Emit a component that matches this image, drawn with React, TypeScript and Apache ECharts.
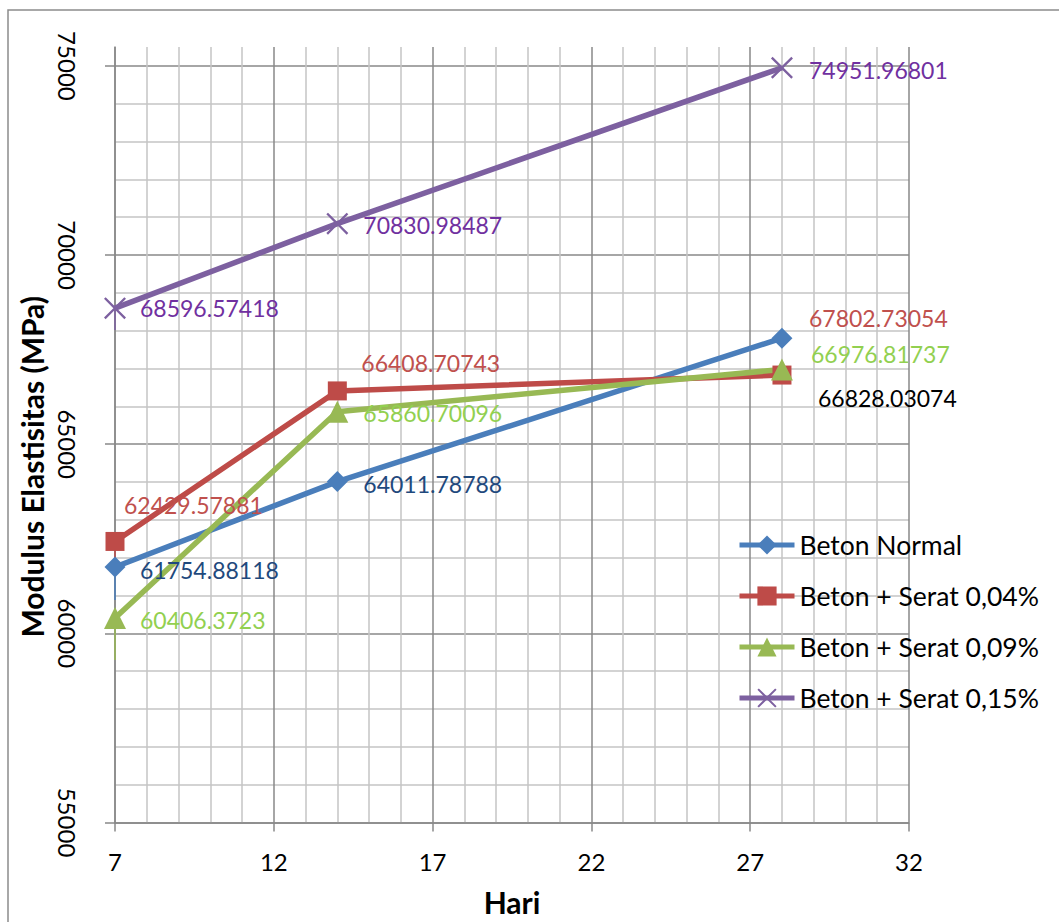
import React, { useEffect, useRef } from "react";
import * as echarts from "echarts";

// ---- data ----
const days = [7, 14, 28];
const seriesNames = [
  "Beton Normal",
  "Beton + Serat 0,04%",
  "Beton + Serat 0,09%",
  "Beton + Serat 0,15%",
];
const betonNormal = [61754.88118, 64011.78788, 67802.73054];
const betonSerat004 = [62429.57881, 66408.70743, 66828.03074];
const betonSerat009 = [60406.3723, 65860.70096, 66976.81737];
const betonSerat015 = [68596.57418, 70830.98487, 74951.96801];
// lower bars (minus direction) visible at day 7
const lowerBarNormal = [870, 0, 0];
const lowerBarSerat004 = [690, 0, 0];
const lowerBarSerat009 = [1110, 0, 0];
const lowerBarSerat015 = [580, 0, 0];
const xTickLabels = [7, 12, 17, 22, 27, 32];
const yTickLabels = [55000, 60000, 65000, 70000, 75000];

// ---- styles ----
const FONT = "Lato";
const lineColors = ["#4A7EBB", "#BE4B48", "#98B954", "#7D60A0"];
const symbols = [
  "diamond",
  "rect",
  "triangle",
  "path://M0,1.5L1.5,0L10,8.5L18.5,0L20,1.5L11.5,10L20,18.5L18.5,20L10,11.5L1.5,20L0,18.5L8.5,10Z",
];
const symbolSizes: any[] = [21, 19, 22, 22];
const labelColors = [
  ["#1F497D", "#1F497D", "#C0504D"],
  ["#C0504D", "#C0504D", "#000000"],
  ["#92D050", "#92D050", "#92D050"],
  ["#7030A0", "#7030A0", "#7030A0"],
];
const labelOffsets = [
  [[25, 3], [26, 2], [27, -20]],
  [[9, -36], [24, -28], [36, 23]],
  [[25, 2], [26, 1], [29, -15]],
  [[25, 0], [26, 1], [27, 2]],
];
const MAJOR = "#888888";
const MINOR = "#C4C4C4";

export default function App() {
  const ref = useRef<HTMLDivElement>(null);
  useEffect(() => {
    if (!ref.current) return;
    const chart = echarts.init(ref.current, undefined, { renderer: "svg" });
    const values = [betonNormal, betonSerat004, betonSerat009, betonSerat015];
    const lowers = [lowerBarNormal, lowerBarSerat004, lowerBarSerat009, lowerBarSerat015];

    const lineSeries = values.map((vals, s) => ({
      type: "line",
      name: seriesNames[s],
      xAxisIndex: 0,
      yAxisIndex: 0,
      z: 3,
      symbol: symbols[s],
      symbolSize: symbolSizes[s],
      showSymbol: true,
      lineStyle: { color: lineColors[s], width: 5.5 },
      itemStyle: { color: lineColors[s] },
      label: {
        show: true,
        position: "inside",
        align: "left",
        verticalAlign: "middle",
        fontFamily: FONT,
        fontSize: 23,
        formatter: (p: any) => String(p.value[1]),
      },
      emphasis: { disabled: true },
      data: days.map((d, i) => ({
        value: [d, vals[i]],
        label: { color: labelColors[s][i], offset: labelOffsets[s][i] },
      })),
    }));

    const barSeries = lowers.map((low, s) => ({
      type: "custom",
      name: seriesNames[s] + " bar",
      xAxisIndex: 0,
      yAxisIndex: 0,
      z: 1,
      silent: true,
      data: days
        .map((d, i) => [d, values[s][i], values[s][i] - low[i]])
        .filter((_, i) => low[i] > 0),
      renderItem: (params: any, api: any) => {
        const a = api.coord([api.value(0), api.value(1)]);
        const b = api.coord([api.value(0), api.value(2)]);
        return {
          type: "line",
          shape: { x1: a[0], y1: a[1], x2: b[0], y2: b[1] },
          style: { stroke: lineColors[s], lineWidth: 1.5 },
        };
      },
    }));

    chart.setOption({
      animation: false,
      backgroundColor: "#ffffff",
      textStyle: { fontFamily: FONT },
      grid: { left: 115, right: 150, top: 47, bottom: 95.5, containLabel: false },
      graphic: [
        {
          type: "rect",
          shape: { x: 8, y: 10, width: 1200, height: 1100 },
          style: { fill: "none", stroke: "#8C8C8C", lineWidth: 1.5 },
          silent: true,
        },
      ],
      legend: {
        orient: "vertical",
        left: 732,
        top: 525,
        padding: 5,
        itemWidth: 55,
        itemHeight: 24,
        itemGap: 21,
        data: seriesNames,
        lineStyle: { width: 5 },
        textStyle: { fontFamily: FONT, fontSize: 26.5, color: "#000", lineHeight: 30 },
      },
      xAxis: [
        {
          type: "value",
          min: 7,
          max: 32,
          interval: 1,
          axisLine: { show: true, onZero: false, lineStyle: { color: MAJOR, width: 1.5 } },
          axisTick: { show: false },
          axisLabel: { show: false },
          splitLine: {
            show: true,
            lineStyle: { color: [MAJOR, MINOR, MINOR, MINOR, MINOR], width: 1.5 },
          },
        },
        {
          type: "value",
          position: "bottom",
          min: 7,
          max: 32,
          interval: 5,
          name: "Hari",
          nameLocation: "middle",
          nameGap: 64.5,
          nameTextStyle: { fontFamily: FONT, fontSize: 30, fontWeight: "bold", color: "#000" },
          axisLine: { show: false, onZero: false },
          axisTick: { show: true, length: 9, customValues: xTickLabels, lineStyle: { color: MAJOR, width: 1.5 } },
          axisLabel: {
            show: true,
            customValues: xTickLabels,
            margin: 27,
            fontFamily: FONT,
            fontSize: 24,
            color: "#000",
          },
          splitLine: { show: false },
        },
      ],
      yAxis: [
        {
          type: "value",
          min: 55000,
          max: 75500,
          interval: 1000,
          axisLine: { show: true, onZero: false, lineStyle: { color: MAJOR, width: 1.5 } },
          axisTick: { show: false },
          axisLabel: { show: false },
          splitLine: {
            show: true,
            showMaxLine: false,
            lineStyle: { color: [MAJOR, MINOR, MINOR, MINOR, MINOR], width: 1.5 },
          },
        },
        {
          type: "value",
          position: "left",
          min: 55000,
          max: 75500,
          interval: 5000,
          name: "Modulus Elastisitas (MPa)",
          nameLocation: "middle",
          nameGap: 66,
          nameTextStyle: {
            fontFamily: FONT,
            fontSize: 30,
            fontWeight: "bold",
            color: "#000",
            padding: [0, 64, 0, 0],
          },
          axisLine: { show: false, onZero: false },
          axisTick: {
            show: true,
            length: 10,
            customValues: yTickLabels,
            lineStyle: { color: MAJOR, width: 1.5 },
          },
          axisLabel: {
            show: true,
            customValues: yTickLabels,
            rotate: -90,
            margin: 36,
            fontFamily: FONT,
            fontSize: 24,
            color: "#000",
            formatter: (v: number) => (v % 5000 === 0 ? String(v) : ""),
          },
          splitLine: { show: false },
        },
      ],
      series: [...barSeries, ...lineSeries],
    } as any);
    return () => chart.dispose();
  }, []);
  return (
    <div
      ref={ref}
      style={{ position: "absolute", left: 0, top: 0, width: 1059, height: 922, background: "#fff" }}
    />
  );
}
